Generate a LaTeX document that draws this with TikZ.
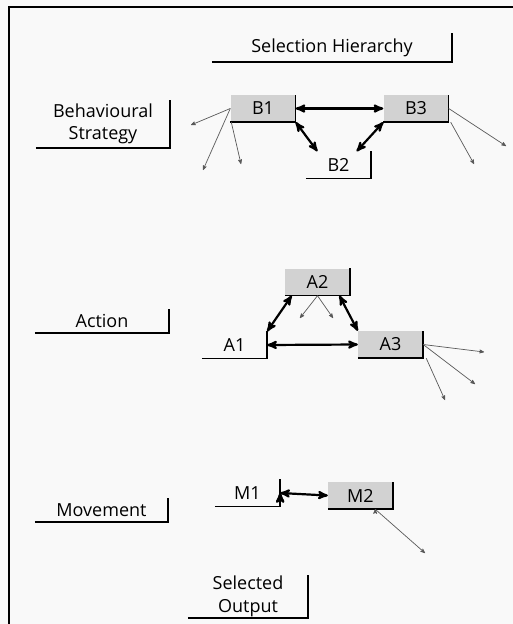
\documentclass[tikz,border=0pt]{standalone}
\usepackage{fontspec}
\setmainfont{Open Sans}
\usetikzlibrary{arrows, positioning}

\begin{document}
\begin{tikzpicture}[x=1pt, y=-1pt,
    level/.style={inner sep=0pt, align=center, font=\fontsize{18}{22.5}\selectfont},
    unit/.style={level, minimum width=65pt, minimum height=27pt},
    chosen/.style={unit, fill=gray!35},
    bar/.style={line width=1.5pt},
    link/.style={<->, >=stealth', line width=2.2pt},
    spread/.style={->, >=stealth', gray!70!black, line width=0.7pt}]
                        \useasboundingbox[fill=gray!5] (0, 0) rectangle (513, 624);
                        \draw[line width=1.4pt] (9, 624) -- (9, 7) -- (513, 7);

                        % level labels
                        \node[level, minimum width=240pt, minimum height=29pt] (sel) at (332, 47.5) {Selection Hierarchy};
                        \node[level, minimum width=134pt, minimum height=48pt] (strat) at (103, 124) {Behavioural\\Strategy};
                        \node[level, minimum width=134pt, minimum height=24pt] (act) at (102, 321) {Action};
                        \node[level, minimum width=133pt, minimum height=24pt] (mov) at (101.5, 510) {Movement};
                        \node[level, minimum width=120pt, minimum height=43pt] (out) at (248, 596.5) {Selected\\Output};

                        % units
                        \node[chosen] (b1) at (263, 108.5) {B1};
                        \node[chosen] (b3) at (416, 108.5) {B3};
                        \node[unit] (b2) at (338.5, 165) {B2};
                        \node[chosen] (a2) at (317.5, 282) {A2};
                        \node[unit] (a1) at (234.5, 345) {A1};
                        \node[chosen] (a3) at (390.5, 344.5) {A3};
                        \node[unit] (m1) at (247.5, 493) {M1};
                        \node[chosen] (m2) at (360.5, 495.5) {M2};

                        \foreach \n in {sel, strat, act, mov, out, b1, b2, b3, a1, a2, a3, m1, m2} {
                            \draw[bar]
                            (\n.south west) -- (\n.south east) -- (\n.north east);
                        }

                        % loose ends of the outputs
                        \coordinate (b1p) at (191, 125);
                        \coordinate (b1q) at (203, 170);
                        \coordinate (b1r) at (241, 164);
                        \coordinate (b3p) at (506, 146);
                        \coordinate (b3q) at (474, 164);
                        \coordinate (a2p) at (300, 318);
                        \coordinate (a2q) at (333, 318);
                        \coordinate (a3p) at (484, 352);
                        \coordinate (a3q) at (475, 384);
                        \coordinate (a3r) at (445, 400);
                        \coordinate (m2p) at (425, 553);

                        \draw[link]
                        (b1.east) edge (b3.west)
                        (b1.south east) edge (b2.147)
                        (b3.south west) edge (b2.37)
                        (a2.208) edge (a1.north east)
                        (a2.-32) edge (a3.north west)
                        (a1.east) edge (a3.west)
                        (m1.east) edge (m2.west);

                        \draw[spread]
                        (b1.west) edge (b1p)
                        (b1.west) edge (b1q)
                        ([xshift=1pt]b1.south west) edge (b1r)
                        (b3.east) edge (b3p)
                        ([xshift=2pt]b3.south east) edge (b3q)
                        (a2.south) edge (a2p)
                        (a2.south) edge (a2q)
                        (a3.east) edge (a3p)
                        (a3.east) edge (a3q)
                        ([xshift=3pt]a3.south east) edge (a3r)
                        (m2.-43) edge (m2p);
                    \end{tikzpicture}
\end{document}
